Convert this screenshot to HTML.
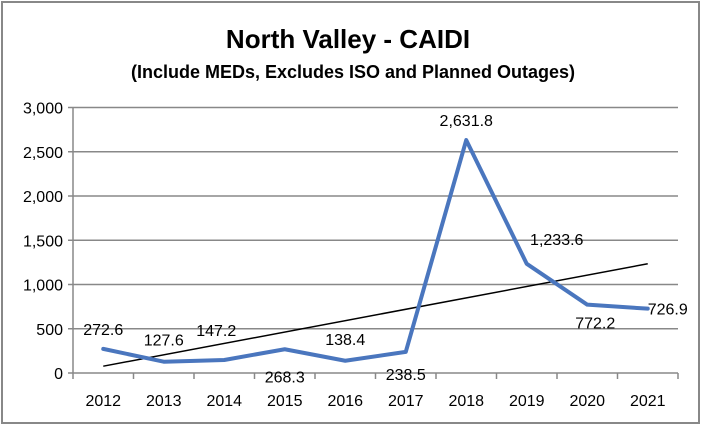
<!DOCTYPE html>
<html><head><meta charset="utf-8"><style>
body{margin:0;background:#fff;}
svg{display:block;font-family:"Liberation Sans",sans-serif;}
</style></head><body>
<svg id="c" width="702" height="425">
<rect x="2" y="2" width="697" height="421" fill="#fff" stroke="#888" stroke-width="2"/>
<text x="348" y="48" text-anchor="middle" font-size="26" font-weight="bold">North Valley - CAIDI</text>
<text x="353" y="78" text-anchor="middle" font-size="18" font-weight="bold">(Include MEDs, Excludes ISO and Planned Outages)</text>
</svg>
<script>
const categories=["2012","2013","2014","2015","2016","2017","2018","2019","2020","2021"];
const values=[272.6,127.6,147.2,268.3,138.4,238.5,2631.8,1233.6,772.2,726.9];
const yTicks=[0,500,1000,1500,2000,2500,3000];
const yTickLabels=["0","500","1,000","1,500","2,000","2,500","3,000"];
const valueLabels=["272.6","127.6","147.2","268.3","138.4","238.5","2,631.8","1,233.6","772.2","726.9"];
const labelOffsets=[[0,-20],[0,-22],[-8,-30],[0,27],[0,-22],[0,22],[0,-20],[30,-25],[8,18],[20,0]];
const svg=document.getElementById('c');const NS='http://www.w3.org/2000/svg';
const L=73,R=678,T=107.5,B=373;
const step=(R-L)/categories.length;
const xs=i=>L+step*(i+0.5);
const ys=v=>B-(v/3000)*(B-T);
function mk(t,a,txt){const e=document.createElementNS(NS,t);for(const k in a)e.setAttribute(k,a[k]);if(txt!=null)e.textContent=txt;svg.appendChild(e);return e;}
yTicks.forEach((v,i)=>{
 const g=mk('line',{x1:L-5,x2:R,y1:ys(v),y2:ys(v),stroke:'#888','stroke-width':1.5});
 
 
 const t=mk('text',{x:L-10,y:ys(v)+6,'text-anchor':'end','font-size':16},yTickLabels[i]);
 
 
});
const ax=mk('line',{x1:L,x2:L,y1:T,y2:B,stroke:'#888','stroke-width':1.5});


for(let i=0;i<=categories.length;i++){
 const tk=mk('line',{x1:L+step*i,x2:L+step*i,y1:B,y2:B+6,stroke:'#888','stroke-width':1.5});
 
 
}
categories.forEach((c,i)=>{
 const t=mk('text',{x:xs(i),y:B+33,'text-anchor':'middle','font-size':16},c);
 
 
});
const n=values.length,mx=(n-1)/2,my=values.reduce((a,b)=>a+b,0)/n;
let num=0,den=0;values.forEach((v,i)=>{num+=(i-mx)*(v-my);den+=(i-mx)*(i-mx);});
const sl=num/den,ic=my-sl*mx;
const tr=mk('line',{x1:xs(0),y1:ys(ic),x2:xs(n-1),y2:ys(ic+sl*(n-1)),stroke:'#000','stroke-width':1.5});


const pl=mk('polyline',{points:values.map((v,i)=>xs(i)+','+ys(v)).join(' '),fill:'none',stroke:'#4a76be','stroke-width':4,'stroke-linejoin':'round','stroke-linecap':'round'});


values.forEach((v,i)=>{
 const t=mk('text',{x:xs(i)+labelOffsets[i][0],y:ys(v)+labelOffsets[i][1]+6,'text-anchor':'middle','font-size':16},valueLabels[i]);
 
 
});
</script>
</body></html>
